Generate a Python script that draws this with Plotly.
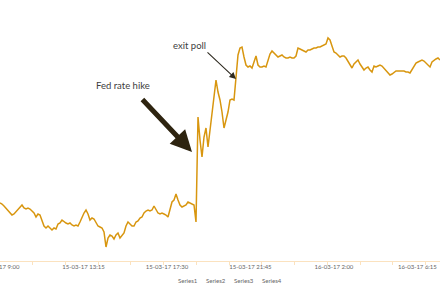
import pandas as pd
import plotly.graph_objects as go

# EUR/USD-style intraday rate (one value every ~6 minutes)
start_time = "2017-03-15 09:00"
end_time = "2017-03-16 07:24"
rate = [
    1.0558, 1.0557, 1.0555, 1.0553, 1.0550, 1.0548, 1.0546, 1.0547, 1.0549, 1.0551,
    1.0553, 1.0556, 1.0553, 1.0552, 1.0553, 1.0552, 1.0550, 1.0548, 1.0544, 1.0547,
    1.0546, 1.0540, 1.0535, 1.0533, 1.0535, 1.0533, 1.0531, 1.0533, 1.0532, 1.0537,
    1.0538, 1.0541, 1.0539, 1.0538, 1.0537, 1.0538, 1.0536, 1.0535, 1.0536, 1.0535,
    1.0539, 1.0544, 1.0548, 1.0551, 1.0547, 1.0541, 1.0543, 1.0542, 1.0539, 1.0535,
    1.0534, 1.0533, 1.0529, 1.0514, 1.0523, 1.0526, 1.0525, 1.0522, 1.0526, 1.0528,
    1.0523, 1.0525, 1.0528, 1.0535, 1.0539, 1.0537, 1.0535, 1.0535, 1.0539, 1.0540,
    1.0543, 1.0544, 1.0548, 1.0550, 1.0551, 1.0550, 1.0551, 1.0555, 1.0552, 1.0548,
    1.0547, 1.0548, 1.0547, 1.0546, 1.0544, 1.0553, 1.0559, 1.0561, 1.0567, 1.0561,
    1.0556, 1.0554, 1.0555, 1.0556, 1.0559, 1.0558, 1.0557, 1.0556, 1.0539, 1.0644,
    1.0621, 1.0604, 1.0624, 1.0633, 1.0614, 1.0631, 1.0648, 1.0668, 1.0681, 1.0669,
    1.0661, 1.0649, 1.0633, 1.0641, 1.0649, 1.0661, 1.0662, 1.0661, 1.0681, 1.0706,
    1.0713, 1.0714, 1.0704, 1.0696, 1.0694, 1.0695, 1.0693, 1.0699, 1.0705, 1.0696,
    1.0694, 1.0694, 1.0695, 1.0694, 1.0701, 1.0707, 1.0710, 1.0708, 1.0706, 1.0704,
    1.0705, 1.0706, 1.0704, 1.0703, 1.0703, 1.0704, 1.0703, 1.0703, 1.0705, 1.0713,
    1.0712, 1.0711, 1.0710, 1.0709, 1.0711, 1.0711, 1.0712, 1.0713, 1.0713, 1.0714,
    1.0714, 1.0715, 1.0716, 1.0717, 1.0723, 1.0721, 1.0715, 1.0709, 1.0708, 1.0706,
    1.0704, 1.0705, 1.0705, 1.0703, 1.0700, 1.0696, 1.0693, 1.0697, 1.0699, 1.0701,
    1.0697, 1.0694, 1.0691, 1.0693, 1.0694, 1.0691, 1.0689, 1.0695, 1.0694, 1.0695,
    1.0696, 1.0695, 1.0693, 1.0690, 1.0688, 1.0686, 1.0687, 1.0689, 1.0690, 1.0690,
    1.0690, 1.0690, 1.0690, 1.0689, 1.0689, 1.0688, 1.0691, 1.0694, 1.0698, 1.0699,
    1.0700, 1.0701, 1.0700, 1.0698, 1.0696, 1.0694, 1.0699, 1.0701, 1.0702, 1.0703,
    1.0701,
]
legend_names = ["Series1", "Series2", "Series3", "Series4"]
events = ["Fed rate hike", "exit poll"]

times = pd.date_range(start_time, end_time, periods=len(rate))

LINE = "#d8960f"
AXIS = "#fbe2bf"
FONT = "Lato, sans-serif"

fig = go.Figure()
fig.add_trace(go.Scatter(x=times, y=rate, mode="lines",
                         line=dict(color=LINE, width=1.5), showlegend=False,
                         hoverinfo="skip"))

fig.update_layout(
    width=440, height=300,
    margin=dict(l=0, r=0, t=10, b=39, autoexpand=False),
    paper_bgcolor="white", plot_bgcolor="white",
    showlegend=False,
)
fig.update_xaxes(
    type="date", range=[times[0], times[-1]], automargin=False,
    showgrid=False, zeroline=False,
    showline=True, linecolor=AXIS, linewidth=1,
    tick0="2017-03-15 09:00", dtick=255 * 60 * 1000,
    tickformat="%d-%m-%y %-H:%M", ticks="", ticklabeloverflow="allow",
    tickfont=dict(family=FONT, size=6, color="#666666"),
    minor=dict(ticks="outside", ticklen=3, tickcolor=AXIS,
               tick0="2017-03-15 09:00", dtick=100 * 60 * 1000, showgrid=False),
)
fig.update_yaxes(range=[1.0500, 1.0751], visible=False, showgrid=False, automargin=False)

# legend (text only, as in the reference)
for name, xp in zip(legend_names, [188, 216, 244, 272]):
    fig.add_annotation(text=name, xref="paper", yref="paper", x=xp / 440, y=-0.0757,
                       showarrow=False, xanchor="center", yanchor="middle",
                       font=dict(family=FONT, size=6, color="#666666"))

# event labels
fig.add_annotation(text=events[0], xref="paper", yref="paper", x=123 / 440, y=(261 - 86) / 251,
                   showarrow=False, xanchor="center", yanchor="middle",
                   font=dict(family=FONT, size=9.5, color="#404040"))
fig.add_annotation(text=events[1], xref="paper", yref="paper", x=189 / 440, y=(261 - 45) / 251,
                   showarrow=False, xanchor="center", yanchor="middle",
                   font=dict(family=FONT, size=9.5, color="#404040"))
# arrows
fig.add_annotation(text="", xref="paper", yref="paper", x=192 / 440, y=(261 - 152) / 251,
                   showarrow=True, ax=-51, ay=-54, arrowhead=2, arrowsize=0.85,
                   arrowwidth=5, arrowcolor="#2e2410", standoff=0)
fig.add_annotation(text="", xref="paper", yref="paper", x=236 / 440, y=(261 - 79) / 251,
                   showarrow=True, ax=-30, ay=-28, arrowhead=2, arrowsize=1.2,
                   arrowwidth=1.1, arrowcolor="#2e2a20", standoff=0)

fig.write_html("out.html")
